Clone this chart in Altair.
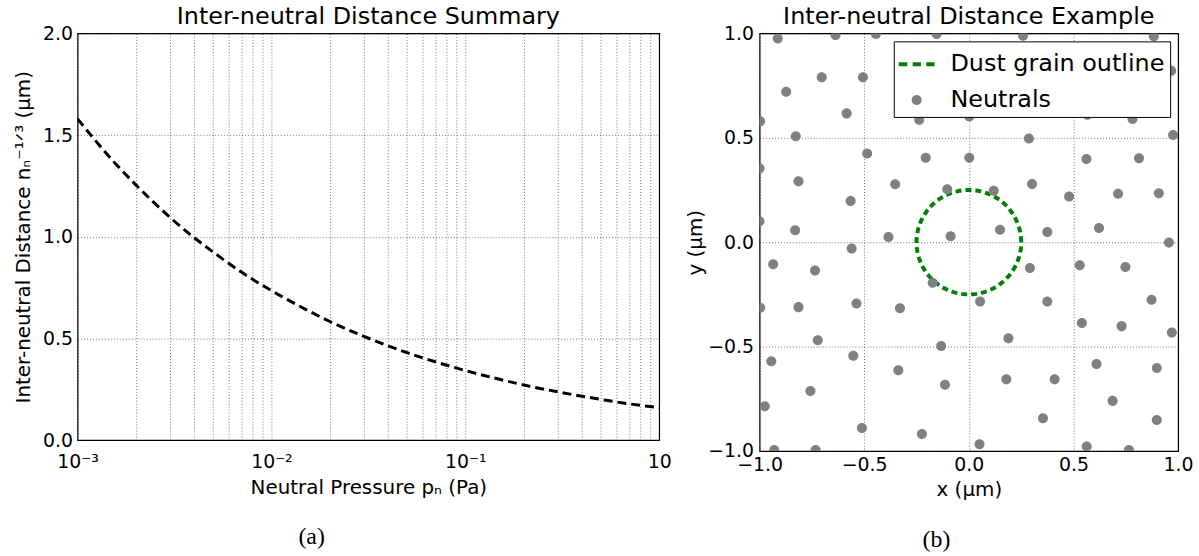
import altair as alt
import numpy as np
import pandas as pd

# ---------------- Left panel data ----------------
pressure_pa = [0.001, 0.0015, 0.002, 0.003, 0.004, 0.005, 0.007, 0.01, 0.015,
               0.02, 0.03, 0.05, 0.07, 0.1, 0.15, 0.2, 0.3, 0.5, 0.7, 1.0]
distance_um = [1.58, 1.38, 1.255, 1.095, 0.995, 0.925, 0.826, 0.735, 0.643,
               0.583, 0.51, 0.43, 0.385, 0.342, 0.299, 0.271, 0.237, 0.20, 0.178, 0.16]

x_major_ticks = [0.001, 0.01, 0.1, 1.0]
x_major_labels = ["10⁻³", "10⁻²", "10⁻¹", "10"]
x_minor_mult = [2, 3, 4, 5, 6, 7, 8, 9]
y_ticks_left = [0.0, 0.5, 1.0, 1.5, 2.0]

# ---------------- Right panel data ----------------
neutral_x = [-0.913, -0.637, -0.444, -0.154, -0.703, -0.506, -0.873, -0.997, -0.584, -0.237,
             -0.827, -0.486, -0.206, -1.0, -0.814, -0.352, -0.103, -0.565, -1.0, -0.830,
             -0.384, -0.087,
             0.259, 0.884, 0.967, 0.002, 0.567, 0.782, 0.287, 0.976, 0.002, 0.562,
             0.813, 0.119, 0.302, 0.479, 0.713, 0.908, 0.149, 0.375, 0.622, 0.956,
             -0.560, -0.935, -0.735, -0.173, -0.997, -0.814, -0.537, -0.329, -0.722, -0.132,
             -0.944, -0.552, -0.337, -0.114, -0.757, -0.975, -0.511, -0.224, -0.930, -0.732,
             0.530, 0.748, 0.292, 0.054, 0.375, 0.873, 0.540, 0.730, 0.970, 0.189,
             0.610, 0.898, 0.179, 0.410, 0.687, 0.354, 0.898, 0.051, 0.563, 0.765]
neutral_y = [0.976, 0.992, 0.997, 0.997, 0.790, 0.790, 0.721, 0.579, 0.617, 0.587,
             0.508, 0.425, 0.405, 0.354, 0.292, 0.278, 0.254, 0.197, 0.100, 0.057,
             0.025, 0.029,
             0.989, 0.986, 0.821, 0.602, 0.611, 0.590, 0.497, 0.513, 0.405, 0.398,
             0.402, 0.246, 0.279, 0.219, 0.232, 0.235, 0.060, 0.049, 0.068, -0.002,
             -0.030, -0.106, -0.136, -0.194, -0.314, -0.311, -0.294, -0.316, -0.470, -0.497,
             -0.570, -0.544, -0.613, -0.683, -0.713, -0.786, -0.890, -0.919, -0.995, -0.995,
             -0.110, -0.119, -0.124, -0.284, -0.284, -0.276, -0.387, -0.402, -0.432, -0.460,
             -0.583, -0.603, -0.657, -0.657, -0.760, -0.843, -0.852, -0.968, -0.978, -0.995]
grain_radius_um = 0.25
xy_ticks = [-1.0, -0.5, 0.0, 0.5, 1.0]
series_names = ["Dust grain outline", "Neutrals"]
series_colors = ["#008000", "#808080"]

FONT = "DejaVu Sans"
TITLE_OFFSET = -5

# ---------------- Left panel ----------------
curve_df = pd.DataFrame({"pressure": pressure_pa, "distance": distance_um})
grid_vals = sorted(x_major_ticks + [m * t for t in x_major_ticks[:-1] for m in x_minor_mult])
label_expr = "".join(
    f"abs(datum.value - {v}) < {v * 1e-6} ? '{lab}' : " for v, lab in zip(x_major_ticks, x_major_labels)
) + "''"

left = alt.Chart(curve_df).mark_line(
    color="black", strokeWidth=3, strokeDash=[9, 5], interpolate="monotone", clip=True
).encode(
    x=alt.X("pressure:Q",
            scale=alt.Scale(type="log", domain=[x_major_ticks[0], x_major_ticks[-1]], nice=False),
            axis=alt.Axis(values=grid_vals, labelExpr=label_expr, title="Neutral Pressure pₙ (Pa)",
                          labelFlush=False, labelOverlap=False, labelPadding=13, titlePadding=6)),
    y=alt.Y("distance:Q",
            scale=alt.Scale(domain=[0, 2], nice=False, zero=False),
            axis=alt.Axis(values=y_ticks_left, format=".1f",
                          title="Inter-neutral Distance nₙ⁻¹ᐟ³ (μm)",
                          labelPadding=5, titlePadding=9)),
).properties(
    width=585, height=409,
    title=alt.TitleParams("Inter-neutral Distance Summary", fontSize=24, font=FONT,
                          fontWeight="normal", offset=TITLE_OFFSET, color="black", anchor="middle"),
)
left_panel = alt.vconcat(left).properties(
    title=alt.TitleParams("(a)", orient="bottom", anchor="middle", font="Liberation Serif",
                          fontSize=24, fontWeight="normal", offset=27, dx=-31, color="black")
)

# ---------------- Right panel ----------------
neutral_df = pd.DataFrame({"x": neutral_x, "y": neutral_y, "kind": series_names[1]})
theta = np.linspace(0, 2 * np.pi, 181)
circle_df = pd.DataFrame({
    "x": grain_radius_um * np.cos(theta),
    "y": grain_radius_um * np.sin(theta),
    "i": np.arange(len(theta)),
})

dash_path = ("M-1,-0.11H-0.52V0.11H-1Z M-0.22,-0.11H0.24V0.11H-0.22Z "
             "M0.54,-0.11H1V0.11H0.54Z")
r = 0.28
dot_path = f"M{r},0A{r},{r} 0 1,1 {-r},0A{r},{r} 0 1,1 {r},0Z"

xsc = alt.Scale(domain=[-1, 1], nice=False, zero=False)
ysc = alt.Scale(domain=[-1, 1], nice=False, zero=False)
x_axis = alt.Axis(values=xy_ticks, format=".1f", title="x (μm)", labelFlush=False,
                  labelOverlap=False, labelPadding=5, titlePadding=5)
y_axis = alt.Axis(values=xy_ticks, format=".1f", title="y (μm)", labelFlush=False,
                  labelOverlap=False, labelPadding=6, titlePadding=2)

legend = alt.Legend(
    title=None, orient="top-right", offset=8, strokeColor="black", fillColor="white",
    padding=5, labelFontSize=24, labelFont=FONT, labelColor="black", labelOffset=16,
    rowPadding=6, symbolSize=1296, symbolStrokeWidth=0, symbolOpacity=1,
    cornerRadius=0, labelLimit=400,
)

circle = alt.Chart(circle_df).mark_line(
    color=series_colors[0], strokeWidth=4, strokeDash=[6, 4]
).encode(
    x=alt.X("x:Q", scale=xsc, axis=x_axis),
    y=alt.Y("y:Q", scale=ysc, axis=y_axis),
    order="i:Q",
)

points = alt.Chart(neutral_df).mark_point(
    filled=True, opacity=1, size=1296, strokeWidth=0, clip=True
).encode(
    x=alt.X("x:Q", scale=xsc, axis=x_axis),
    y=alt.Y("y:Q", scale=ysc, axis=y_axis),
    color=alt.Color("kind:N", scale=alt.Scale(domain=series_names, range=series_colors), legend=legend),
    shape=alt.Shape("kind:N", scale=alt.Scale(domain=series_names, range=[dash_path, dot_path]), legend=legend),
)

right = alt.layer(circle, points).properties(
    width=421, height=420,
    title=alt.TitleParams("Inter-neutral Distance Example", fontSize=24, font=FONT,
                          fontWeight="normal", offset=TITLE_OFFSET, color="black", anchor="middle"),
)
right_panel = alt.vconcat(right).properties(
    title=alt.TitleParams("(b)", orient="bottom", anchor="middle", font="Liberation Serif",
                          fontSize=24, fontWeight="normal", offset=28, dx=-3, color="black")
).resolve_legend(color="independent", shape="independent")

chart = alt.hconcat(left_panel, right_panel, spacing=13).properties(
    padding={"left": 13, "top": 3, "right": 5, "bottom": 0},
    background="white",
).resolve_legend(
    color="independent", shape="independent"
).configure_view(
    stroke="black", strokeWidth=1.2
).configure_axis(
    labelFont=FONT, labelFontSize=19, labelColor="black",
    titleFont=FONT, titleFontSize=20, titleFontWeight="normal", titleColor="black",
    grid=True, gridColor="#000000", gridOpacity=0.55, gridDash=[1, 2], gridWidth=1,
    domain=False, ticks=False,
)

chart.save("out.html", embed_options={"renderer": "svg", "actions": False})
